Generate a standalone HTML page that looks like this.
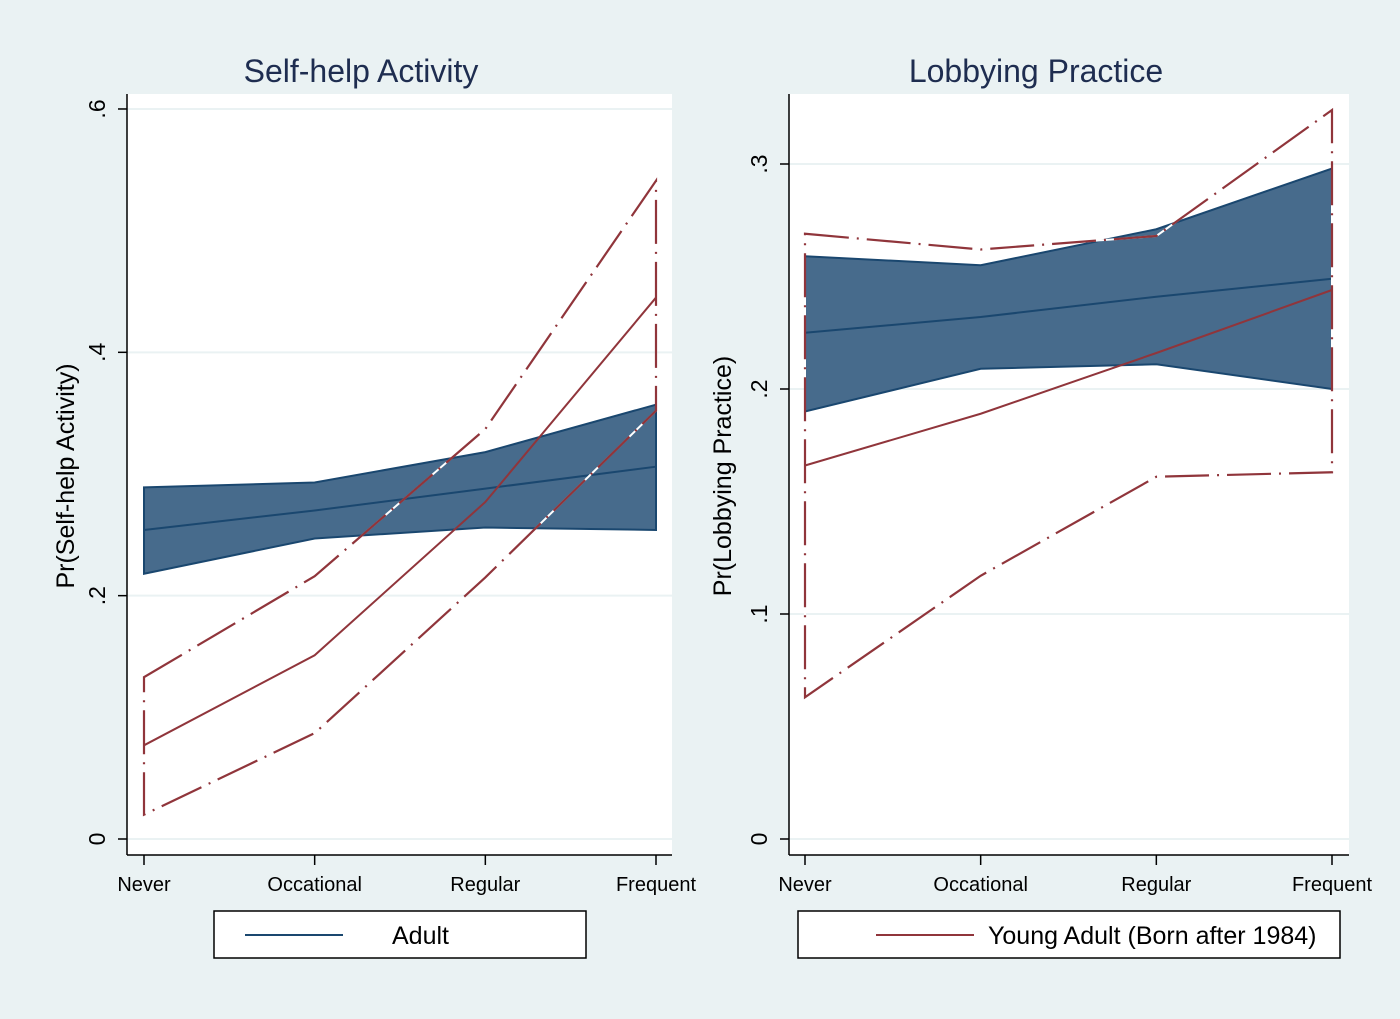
<!DOCTYPE html>
<html><head><meta charset="utf-8"><style>
body{margin:0;background:#eaf2f3;}
svg{display:block;font-family:"Liberation Sans",Arial,sans-serif;}
</style></head><body>
<svg id="c" width="1400" height="1019" viewBox="0 0 1400 1019"></svg>
<script>
const categories=["Never","Occational","Regular","Frequent"];
const leftAdultMean=[0.254,0.270,0.288,0.306];
const leftAdultUpper=[0.289,0.293,0.318,0.357];
const leftAdultLower=[0.218,0.247,0.256,0.254];
const leftYoungMean=[0.077,0.151,0.277,0.445];
const leftYoungUpper=[0.133,0.216,0.337,0.541];
const leftYoungLower=[0.020,0.087,0.215,0.352];
const leftTicks=[0,0.2,0.4,0.6];
const leftTickLabels=["0",".2",".4",".6"];
const rightAdultMean=[0.225,0.232,0.241,0.249];
const rightAdultUpper=[0.259,0.255,0.271,0.298];
const rightAdultLower=[0.190,0.209,0.211,0.200];
const rightYoungMean=[0.166,0.189,0.216,0.244];
const rightYoungUpper=[0.269,0.262,0.268,0.324];
const rightYoungLower=[0.063,0.117,0.161,0.163];
const rightTicks=[0,0.1,0.2,0.3];
const rightTickLabels=["0",".1",".2",".3"];

const svg=document.getElementById('c');
const NS="http://www.w3.org/2000/svg";
function mk(tag,attrs,parent,name){const e=document.createElementNS(NS,tag);for(const k in attrs)e.setAttribute(k,attrs[k]);


(parent||svg).appendChild(e);return e;}
const RED="#90353b",BLUE="#1a476f",FILL="#476b8c";

function panel(cfg){
 const g=mk('g',{},svg,cfg.name);
 const {x0,x1,xs,y0px,ppu}=cfg;
 const X=i=>xs[0]+i*(xs[1]-xs[0])/(categories.length-1);
 const Y=v=>y0px-v*ppu;
 mk('rect',{x:x0,y:94,width:x1-x0,height:761,fill:"#fff"},g,'plot-area');
 cfg.ticks.forEach((t,i)=>{
  mk('line',{x1:x0,x2:x1,y1:Y(t),y2:Y(t),stroke:"#eaf2f3","stroke-width":2},g,'gridline');
  mk('line',{x1:x0-9,x2:x0,y1:Y(t),y2:Y(t),stroke:"#000","stroke-width":1.5},g,'y-tick');
  const tx=mk('text',{x:x0-22,y:Y(t),"font-size":23,"text-anchor":"middle",transform:`rotate(-90 ${x0-22} ${Y(t)})`,fill:"#000"},g,'y-tick-label');
  tx.textContent=cfg.tickLabels[i];
 });
 mk('line',{x1:x0,x2:x0,y1:94,y2:855,stroke:"#000","stroke-width":1.5},g,'y-axis');
 mk('line',{x1:x0,x2:x1,y1:855,y2:855,stroke:"#000","stroke-width":1.5},g,'x-axis');
 categories.forEach((c,i)=>{
  mk('line',{x1:X(i),x2:X(i),y1:855,y2:865,stroke:"#000","stroke-width":1.5},g,'x-tick');
  const t=mk('text',{x:X(i),y:891,"font-size":20,"text-anchor":"middle"},g,'x-tick-label');t.textContent=c;
 });
 const yl=mk('text',{x:cfg.ylx,y:476,"font-size":25,"text-anchor":"middle",transform:`rotate(-90 ${cfg.ylx} 476)`},g,'y-axis-title');yl.textContent=cfg.ylabel;
 const ti=mk('text',{x:cfg.tx,y:82,"font-size":32,"text-anchor":"middle",fill:"#1e2d50"},g,'chart-title');ti.textContent=cfg.title;
 let pts=cfg.aU.map((v,i)=>X(i)+","+Y(v)).concat(cfg.aL.map((v,i)=>X(i)+","+Y(v)).reverse());
 mk('polygon',{points:pts.join(" "),fill:FILL,stroke:BLUE,"stroke-width":2},g,'adult-ci-band');
 mk('polyline',{points:cfg.aM.map((v,i)=>X(i)+","+Y(v)).join(" "),fill:"none",stroke:BLUE,"stroke-width":2},g,'adult-line');
 let yp=cfg.yU.map((v,i)=>X(i)+","+Y(v)).concat(cfg.yL.map((v,i)=>X(i)+","+Y(v)).reverse());
 mk('polygon',{points:yp.join(" "),fill:"none",stroke:"#fff","stroke-width":2},g,'young-ci-gap');
 mk('polygon',{points:yp.join(" "),fill:"none",stroke:RED,"stroke-width":2.2,"stroke-dasharray":"44 8 2 8"},g,'young-ci-outline');
 mk('polyline',{points:cfg.yM.map((v,i)=>X(i)+","+Y(v)).join(" "),fill:"none",stroke:RED,"stroke-width":2},g,'young-adult-line');
 mk('rect',{x:cfg.lg[0],y:911,width:cfg.lg[1],height:47,fill:"#fff",stroke:"#000","stroke-width":1.5},g,'legend-box');
 mk('line',{x1:cfg.lg[2],x2:cfg.lg[2]+98,y1:935,y2:935,stroke:cfg.lc,"stroke-width":2},g,'legend-swatch');
 const lt=mk('text',{x:cfg.lg[3],y:944,"font-size":25},g,'legend-entry');lt.textContent=cfg.ltext;
}
panel({name:'self-help-panel',x0:127,x1:672,xs:[144,656],y0px:839,ppu:1216.7,ticks:leftTicks,tickLabels:leftTickLabels,ylx:74,tx:361,ylabel:"Pr(Self-help Activity)",title:"Self-help Activity",
 aM:leftAdultMean,aU:leftAdultUpper,aL:leftAdultLower,yM:leftYoungMean,yU:leftYoungUpper,yL:leftYoungLower,lg:[214,372,245,392],lc:BLUE,ltext:"Adult"});
panel({name:'lobbying-panel',x0:789,x1:1349,xs:[805,1332],y0px:839,ppu:2250,ticks:rightTicks,tickLabels:rightTickLabels,ylx:731,tx:1036,ylabel:"Pr(Lobbying Practice)",title:"Lobbying Practice",
 aM:rightAdultMean,aU:rightAdultUpper,aL:rightAdultLower,yM:rightYoungMean,yU:rightYoungUpper,yL:rightYoungLower,lg:[798,542,876,988],lc:RED,ltext:"Young Adult (Born after 1984)"});
</script>
</body></html>
